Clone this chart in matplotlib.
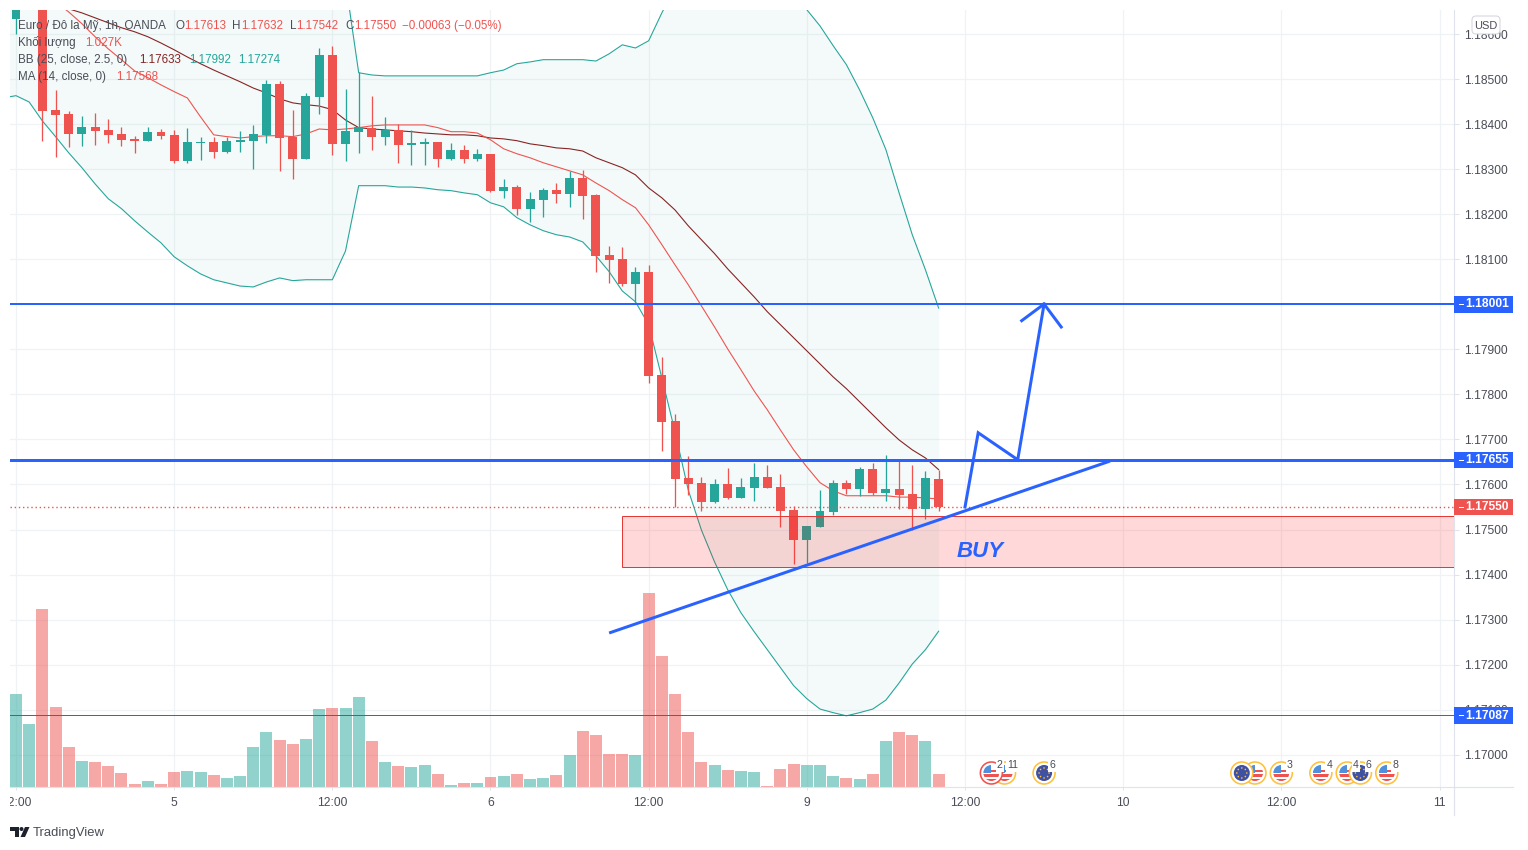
#!/usr/bin/env python3
"""EUR/USD 1h chart with bollinger bands, MA, volume and buy setup drawings"""

import numpy as np
import matplotlib
matplotlib.use('Agg')
import matplotlib.pyplot as plt
from matplotlib.patches import Circle, Rectangle, Polygon, FancyBboxPatch

plt.rcParams['font.family'] = ['Liberation Sans', 'DejaVu Sans']

# all prices in points (1e-5), bar 0 = 12:00 on the 4th, one bar per hour
opens = np.array([
    118635, 118690, 118700, 118433, 118424, 118379, 118395, 118388, 118379, 118368,
    118364, 118384, 118377, 118319, 118359, 118361, 118339, 118361, 118364, 118377,
    118490, 118373, 118324, 118461, 118555, 118357, 118384, 118393, 118373, 118388,
    118355, 118357, 118361, 118324, 118344, 118324, 118335, 118253, 118261, 118213,
    118233, 118255, 118246, 118281, 118244, 118110, 118101, 118046, 118073, 117844,
    117741, 117615, 117604, 117561, 117601, 117570, 117593, 117617, 117595, 117544,
    117477, 117506, 117539, 117604, 117590, 117635, 117581, 117590, 117579, 117546,
    117613]) / 1e5
highs = np.array([
    118673, 118740, 118710, 118477, 118430, 118419, 118426, 118413, 118395, 118375,
    118395, 118390, 118388, 118393, 118373, 118373, 118373, 118386, 118399, 118499,
    118497, 118433, 118470, 118570, 118575, 118479, 118517, 118464, 118417, 118401,
    118388, 118370, 118361, 118359, 118355, 118346, 118335, 118279, 118266, 118250,
    118259, 118270, 118297, 118299, 118246, 118130, 118128, 118084, 118088, 117884,
    117757, 117664, 117617, 117613, 117637, 117615, 117648, 117644, 117624, 117553,
    117508, 117588, 117610, 117610, 117639, 117648, 117666, 117657, 117644, 117630,
    117632]) / 1e5
lows = np.array([
    118601, 118680, 118364, 118328, 118350, 118353, 118355, 118359, 118353, 118337,
    118364, 118368, 118315, 118315, 118321, 118326, 118337, 118339, 118301, 118359,
    118297, 118279, 118324, 118424, 118332, 118319, 118337, 118344, 118355, 118315,
    118310, 118310, 118306, 118321, 118315, 118319, 118250, 118237, 118199, 118184,
    118195, 118226, 118217, 118190, 118073, 118048, 118041, 118001, 117826, 117675,
    117550, 117577, 117541, 117559, 117568, 117570, 117564, 117593, 117506, 117424,
    117426, 117506, 117533, 117579, 117575, 117577, 117564, 117546, 117499, 117524,
    117542]) / 1e5
closes = np.array([
    118664, 118720, 118431, 118421, 118379, 118395, 118386, 118377, 118366, 118364,
    118384, 118375, 118319, 118361, 118361, 118339, 118364, 118366, 118379, 118490,
    118370, 118324, 118464, 118555, 118357, 118386, 118395, 118373, 118388, 118355,
    118359, 118361, 118324, 118344, 118324, 118335, 118253, 118261, 118213, 118235,
    118255, 118246, 118281, 118241, 118108, 118099, 118046, 118073, 117841, 117739,
    117613, 117601, 117561, 117601, 117570, 117595, 117617, 117593, 117541, 117477,
    117508, 117541, 117604, 117590, 117635, 117581, 117590, 117577, 117546, 117615,
    117550]) / 1e5

# volume in thousands
volumes = np.array([
    7.35, 4.98, 14.06, 6.32, 3.16, 2.05, 1.97, 1.66, 1.11, 0.24,
    0.47, 0.24, 1.18, 1.26, 1.18, 0.95, 0.71, 0.87, 3.16, 4.34,
    3.71, 3.40, 3.79, 6.16, 6.24, 6.24, 7.11, 3.63, 1.97, 1.66,
    1.58, 1.74, 1.03, 0.16, 0.32, 0.32, 0.79, 0.87, 1.03, 0.63,
    0.71, 0.95, 2.53, 4.42, 4.11, 2.61, 2.61, 2.53, 15.32, 10.35,
    7.35, 4.34, 1.97, 1.74, 1.34, 1.26, 1.18, 0.08, 1.42, 1.82,
    1.74, 1.74, 0.87, 0.71, 0.63, 1.03, 3.63, 4.34, 4.11, 3.63,
    1.03])

# bands start one bar before the first visible candle
upper_band = np.array([
    118760, 118760, 118760, 118760, 118760, 118760, 118760, 118760, 118760, 118760,
    118760, 118760, 118760, 118760, 118760, 118760, 118760, 118760, 118760, 118760,
    118760, 118760, 118760, 118760, 118760, 118760, 118717, 118515, 118510, 118508,
    118508, 118508, 118508, 118508, 118508, 118508, 118508, 118515, 118521, 118535,
    118539, 118544, 118544, 118544, 118544, 118541, 118557, 118577, 118570, 118586,
    118648, 118704, 118740, 118760, 118760, 118760, 118760, 118760, 118760, 118733,
    118690, 118655, 118619, 118575, 118533, 118477, 118415, 118344, 118248, 118155,
    118077, 117992]) / 1e5
lower_band = np.array([
    118459, 118464, 118450, 118408, 118373, 118337, 118304, 118268, 118235, 118213,
    118186, 118161, 118137, 118106, 118086, 118068, 118055, 118048, 118041, 118039,
    118050, 118059, 118053, 118055, 118055, 118055, 118119, 118264, 118264, 118264,
    118261, 118261, 118259, 118255, 118253, 118248, 118244, 118226, 118217, 118193,
    118177, 118164, 118155, 118150, 118139, 118108, 118073, 118030, 118006, 117955,
    117837, 117717, 117588, 117499, 117428, 117366, 117315, 117273, 117233, 117193,
    117153, 117124, 117101, 117093, 117086, 117093, 117101, 117121, 117159, 117201,
    117233, 117274]) / 1e5
# basis and ma run off the top before bar 2
bb_basis = np.array([
    118684, 118670, 118657, 118648, 118637, 118626, 118615, 118606, 118595, 118581,
    118566, 118550, 118535, 118521, 118508, 118495, 118481, 118470, 118457, 118448,
    118444, 118441, 118433, 118410, 118393, 118390, 118388, 118386, 118384, 118381,
    118379, 118377, 118377, 118375, 118370, 118368, 118364, 118357, 118353, 118348,
    118346, 118341, 118326, 118315, 118304, 118288, 118259, 118237, 118210, 118175,
    118144, 118113, 118079, 118048, 118017, 117984, 117955, 117926, 117897, 117868,
    117839, 117813, 117784, 117755, 117726, 117699, 117677, 117659, 117633]) / 1e5
ma14 = np.array([
    118706, 118673, 118650, 118624, 118595, 118568, 118544, 118519, 118504, 118488,
    118473, 118459, 118417, 118377, 118373, 118370, 118373, 118375, 118375, 118373,
    118379, 118390, 118388, 118390, 118393, 118397, 118399, 118399, 118399, 118399,
    118393, 118384, 118384, 118381, 118366, 118346, 118335, 118326, 118315, 118306,
    118297, 118288, 118270, 118253, 118233, 118215, 118177, 118133, 118088, 118044,
    117997, 117950, 117901, 117855, 117808, 117766, 117721, 117677, 117639, 117604,
    117586, 117575, 117575, 117575, 117575, 117572, 117572, 117570, 117568]) / 1e5

# drawings (bar, price)
level_prices = [1.18001, 1.17655, 1.17087]
level_widths = [2, 3, 1]
trend_bars = [45, 83]
trend_prices = [1.17270, 1.17652]
path_bars = [72, 73, 76, 78]
path_prices = [1.17550, 1.17715, 1.17655, 1.18001]
head_bars = [76.3, 78, 79.3]
head_prices = [1.17964, 1.18001, 1.17950]
zone_start = 46
zone_low = 1.17416
zone_high = 1.17531
last_price = 1.17550

# calendar events under the chart
event_bars = [75, 74, 78, 94, 93, 96, 99, 101, 102, 104]
event_kinds = ['us', 'us', 'eu', 'us', 'eu', 'us', 'us', 'us', 'eu', 'us']
event_counts = ['11', '2', '6', '', '', '3', '4', '4', '6', '8']
event_rings = ['#ffc13b', '#ef5350', '#ffc13b', '#ffc13b', '#ffc13b',
               '#ffc13b', '#ffc13b', '#ffc13b', '#ffc13b', '#ffc13b']

time_ticks = [0, 12, 24, 36, 48, 60, 72, 84, 96, 108]
time_labels = ['12:00', '5', '12:00', '6', '12:00', '9', '12:00', '10', '12:00', '11']
price_ticks = [1.170, 1.171, 1.172, 1.173, 1.174, 1.175, 1.176, 1.177, 1.178,
               1.179, 1.180, 1.181, 1.182, 1.183, 1.184, 1.185, 1.186]

UP = '#26a69a'
DOWN = '#ef5350'
BLUE = '#2962ff'
BROWN = '#872323'
TEXT = '#4a4d57'
AXIS = '#e0e3eb'
W, H = 1528, 850
FS = 8.64
LEGEND_FS = 8.4
PX = 0.72  # 1 px in points at dpi 100

bars = np.arange(len(closes))
band_x = np.arange(-1, len(closes))
line_x = bars[-len(bb_basis):]
xlim = (-0.455, 109.1)
ylim = (1.169278, 1.186544)
rect = [10 / W, 1 - 787 / H, 1444 / W, 777 / H]

fig = plt.figure(figsize=(W / 100, H / 100), dpi=100)


def layer(z):
    a = fig.add_axes(rect, zorder=z)
    a.set_xlim(*xlim)
    a.patch.set_visible(False)
    for s in a.spines.values():
        s.set_visible(False)
    return a


# grid at the bottom, then volume, then price
grid_ax = layer(1)
grid_ax.set_ylim(*ylim)
grid_ax.set_xticks(time_ticks)
grid_ax.set_yticks(price_ticks)
grid_ax.tick_params(length=0, labelbottom=False, labelleft=False)
grid_ax.grid(True, color='#f0f3f5', linewidth=PX * 1.2)
grid_ax.set_axisbelow(True)

vol_ax = layer(2)
vol_ax.set_ylim(0, 777 / 12.66)
vol_ax.set_xticks([])
vol_ax.set_yticks([])
candle_colors = [UP if c >= o else DOWN for o, c in zip(opens, closes)]
vol_ax.bar(bars, volumes, width=0.91, color=candle_colors, alpha=0.5, linewidth=0)

ax = layer(3)
ax.set_ylim(*ylim)
ax.spines['right'].set_visible(True)
ax.spines['right'].set_color(AXIS)
ax.spines['bottom'].set_visible(True)
ax.spines['bottom'].set_color(AXIS)
ax.yaxis.tick_right()
ax.set_yticks(price_ticks)
ax.set_yticklabels(['%.5f' % p for p in price_ticks])
ax.set_xticks(time_ticks)
ax.set_xticklabels(time_labels)
ax.tick_params(axis='y', length=3.6, width=PX, color=AXIS, labelcolor=TEXT, labelsize=FS, pad=4)
ax.tick_params(axis='x', length=2.5, width=PX, color=AXIS, labelcolor=TEXT, labelsize=FS, pad=4.5)
# first time label is cut by the pane edge
first_label = ax.get_xticklabels()[0]
first_label.set_clip_on(True)
first_label.set_clip_path(Rectangle((10, 0), W, H, transform=None))

# bollinger bands and ma
ax.fill_between(band_x, lower_band, upper_band, color=UP, alpha=0.05, linewidth=0, zorder=1)
ax.plot(band_x, upper_band, color=UP, lw=PX * 1.1, zorder=2)
ax.plot(band_x, lower_band, color=UP, lw=PX * 1.1, zorder=2)
ax.plot(line_x, bb_basis, color=BROWN, lw=PX * 1.1, zorder=2)
ax.plot(line_x, ma14, color=DOWN, lw=PX * 1.1, zorder=2)

# candles
ax.vlines(bars, lows, highs, colors=candle_colors, lw=PX * 1.3, zorder=3)
ax.bar(bars, closes - opens, bottom=opens, width=0.68, color=candle_colors, linewidth=0, zorder=4)

# buy zone and drawings
ax.add_patch(Rectangle((zone_start, zone_low), xlim[1] - zone_start, zone_high - zone_low,
                       facecolor=(1, 0, 0, 0.15), edgecolor='#e53935', lw=PX, zorder=5))
ax.axhline(last_price, color=DOWN, lw=1.0, linestyle=(0, (1, 2)), zorder=5)
for price, width in zip(level_prices, level_widths):
    ax.axhline(price, color=BLUE, lw=PX * width, zorder=6)
ax.plot(trend_bars, trend_prices, color=BLUE, lw=PX * 3, solid_capstyle='butt', zorder=6)
ax.plot(path_bars, path_prices, color=BLUE, lw=PX * 3, solid_joinstyle='miter', zorder=6)
ax.plot(head_bars, head_prices, color=BLUE, lw=PX * 3, solid_joinstyle='miter', zorder=6)
ax.text(71.4, 1.17452, 'BUY', color=BLUE, fontsize=16, fontweight='bold',
        fontstyle='italic', va='center', ha='left', zorder=7)

# overlay in pixel coordinates for the chrome around the pane
ov = fig.add_axes([0, 0, 1, 1], zorder=10)
ov.set_xlim(0, W)
ov.set_ylim(H, 0)
ov.axis('off')


def to_px(bar, price):
    x, y = ax.transData.transform((bar, price))
    return x, H - y


def legend_row(y, parts):
    for x, s, c in parts:
        ov.text(x, y, s, color=c, fontsize=LEGEND_FS, va='center', ha='left')


legend_row(25.5, [(18, 'Euro / Đô la Mỹ, 1h, OANDA', TEXT), (175, 'O', TEXT), (184, '1.17613', DOWN),
                  (232, 'H', TEXT), (241, '1.17632', DOWN), (290, 'L', TEXT), (296, '1.17542', DOWN),
                  (345, 'C', TEXT), (354, '1.17550', DOWN), (402, '−0.00063 (−0.05%)', DOWN)])
legend_row(42.5, [(18, 'Khối lượng', TEXT), (85, '1.027K', DOWN)])
legend_row(59.5, [(18, 'BB (25, close, 2.5, 0)', TEXT), (139, '1.17633', BROWN),
                  (189, '1.17992', UP), (238, '1.17274', UP)])
legend_row(76.5, [(18, 'MA (14, close, 0)', TEXT), (116, '1.17568', DOWN)])

# price tags on the axis
tag_prices = [1.18001, 1.17655, 1.17550, 1.17087]
tag_colors = [BLUE, BLUE, DOWN, BLUE]
for price, color in zip(tag_prices, tag_colors):
    _, y = to_px(0, price)
    ov.add_patch(Rectangle((1454, y - 8), 59, 16.5, facecolor=color, edgecolor='none'))
    ov.plot([1459, 1463], [y, y], color='white', lw=PX)
    ov.text(1465, y + 0.3, '%.5f' % price, color='white', fontsize=FS, fontweight='bold',
            va='center', ha='left')

# axis lines run past the pane
ov.plot([1454, 1454], [787, 815], color=AXIS, lw=PX * 1.2)
ov.plot([1454, 1513], [787, 787], color=AXIS, lw=PX * 1.2)

ov.add_patch(FancyBboxPatch((1475, 19), 22, 12, boxstyle='round,pad=3,rounding_size=4',
                            facecolor='white', edgecolor='#d1d4dc', lw=PX))
ov.text(1486, 25.5, 'USD', color=TEXT, fontsize=7.9, va='center', ha='center')


def draw_event(cx, cy, kind, ring, count):
    ov.add_patch(Circle((cx, cy), 11, facecolor='white', edgecolor=ring, lw=PX * 1.6))
    clip = Circle((cx, cy), 8, transform=ov.transData)
    if kind == 'us':
        shapes = [(cx - 8, cy - 8, 16, 16, 'white'), (cx - 8, cy - 8, 8, 8, '#4f8fdc'),
                  (cx, cy - 3, 8, 2, '#ef5350'), (cx - 8, cy + 1, 16, 2.5, '#ef5350'),
                  (cx - 8, cy + 5.5, 16, 3, '#ef5350')]
        for x0, y0, w, h, c in shapes:
            patch = Rectangle((x0, y0), w, h, facecolor=c, edgecolor='none')
            ov.add_patch(patch)
            patch.set_clip_path(clip)
    else:
        ov.add_patch(Circle((cx, cy), 8, facecolor='#3f51a3', edgecolor='none'))
        for a in np.deg2rad(np.arange(0, 360, 45)):
            ov.add_patch(Circle((cx + 5 * np.cos(a), cy + 5 * np.sin(a)), 0.8,
                                facecolor='#ffc13b', edgecolor='none'))
    if count:
        ov.text(cx + 8.5, cy - 7.5, count, color=TEXT, fontsize=7.6, va='center', ha='center',
                bbox=dict(facecolor='white', edgecolor='none', pad=0.8))


for bar, kind, ring, count in zip(event_bars, event_kinds, event_rings, event_counts):
    ex, _ = to_px(bar, ylim[0])
    draw_event(ex, 773, kind, ring, count)

# logo and name
ov.add_patch(Polygon([(10, 827), (19, 827), (19, 837), (15, 837), (15, 831), (10, 831)],
                     facecolor='#1e222d', edgecolor='none'))
ov.add_patch(Circle((21.5, 829), 2, facecolor='#1e222d', edgecolor='none'))
ov.add_patch(Polygon([(25, 827), (29.5, 827), (25, 837), (20.5, 837)],
                     facecolor='#1e222d', edgecolor='none'))
ov.text(33, 833, 'TradingView', color=TEXT, fontsize=9.4, va='center', ha='left')

fig.savefig('out.png', dpi=100, facecolor='white')
